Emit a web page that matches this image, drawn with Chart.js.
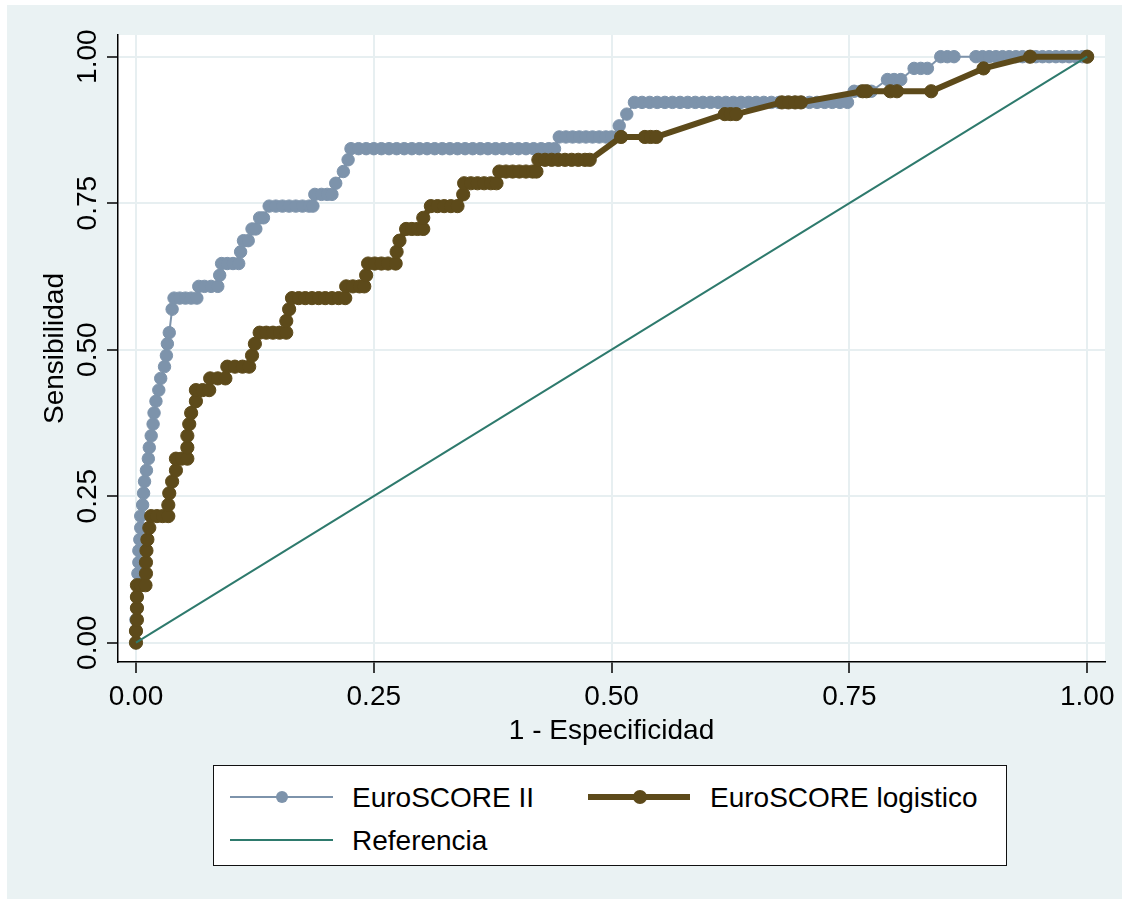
<!DOCTYPE html>
<html>
<head>
<meta charset="utf-8">
<script src="https://cdn.jsdelivr.net/npm/chart.js@4.4.1/dist/chart.umd.min.js"></script>
<style>
  html, body { margin: 0; padding: 0; background: #ffffff; overflow: hidden; }
  #wrap { position: relative; width: 1129px; height: 904px; }
  #c { position: absolute; left: 0; top: 0; }
  .lg { position: absolute; }
  .txt { position: absolute; font-family: "Liberation Sans", Arial, Helvetica, sans-serif; font-size: 28px; line-height: 34px; height: 34px; color: #000; white-space: nowrap; }
</style>
</head>
<body>
<div id="wrap">
  <canvas id="c" width="1129" height="904"></canvas>
  <div class="lg" style="left:213px;top:765px;width:794px;height:101px;box-sizing:border-box;border:1.5px solid #111;background:#fff;"></div>
  <div class="lg" id="lgBlueLine" style="left:230px;top:796px;width:103px;height:2px;"></div>
  <div class="lg" id="lgBlueDot" style="left:276px;top:791px;width:12px;height:12px;border-radius:50%;"></div>
  <div class="txt" style="left:352px;top:781px;">EuroSCORE II</div>
  <div class="lg" id="lgBrownLine" style="left:588px;top:794px;width:102px;height:6px;"></div>
  <div class="lg" id="lgBrownDot" style="left:633px;top:790px;width:14px;height:14px;border-radius:50%;"></div>
  <div class="txt" style="left:710px;top:781px;">EuroSCORE logistico</div>
  <div class="lg" id="lgRefLine" style="left:230px;top:839px;width:103px;height:2px;"></div>
  <div class="txt" style="left:352px;top:824px;">Referencia</div>
</div>
<script>
// ---------- data ----------
const xTickValues = [0, 0.25, 0.5, 0.75, 1];
const yTickValues = [0, 0.25, 0.5, 0.75, 1];
const seriesNames = ["EuroSCORE II", "EuroSCORE logistico", "Referencia"];

// [1 - Especificidad, Sensibilidad]
const euroIIPoints = [
[0,0],[0,0.020],[0,0.039],[0.001,0.059],[0.001,0.078],[0.002,0.098],[0.002,0.118],[0.003,0.137],[0.003,0.157],[0.004,0.176],[0.005,0.196],[0.005,0.216],[0.007,0.235],[0.008,0.255],[0.009,0.275],[0.011,0.294],[0.013,0.314],[0.014,0.333],[0.016,0.353],[0.018,0.373],[0.019,0.392],[0.021,0.412],[0.024,0.431],[0.026,0.451],[0.030,0.471],[0.032,0.490],[0.033,0.510],[0.035,0.529],[0.038,0.569],
[0.040,0.588],[0.046,0.588],[0.052,0.588],[0.058,0.588],[0.064,0.588],
[0.066,0.608],[0.072,0.608],[0.079,0.608],[0.086,0.608],
[0.088,0.627],
[0.090,0.647],[0.096,0.647],[0.102,0.647],[0.108,0.647],
[0.110,0.667],
[0.113,0.686],[0.118,0.686],
[0.122,0.706],[0.126,0.706],
[0.130,0.725],[0.134,0.725],
[0.140,0.745],[0.147,0.745],[0.154,0.745],[0.161,0.745],[0.168,0.745],[0.175,0.745],[0.182,0.745],[0.186,0.745],
[0.188,0.765],[0.195,0.765],[0.201,0.765],[0.206,0.765],
[0.210,0.784],[0.218,0.804],[0.223,0.824],
[0.226,0.843],[0.234,0.843],[0.242,0.843],[0.250,0.843],[0.258,0.843],[0.266,0.843],[0.274,0.843],[0.282,0.843],[0.290,0.843],[0.298,0.843],[0.306,0.843],[0.314,0.843],[0.322,0.843],[0.330,0.843],[0.338,0.843],[0.346,0.843],[0.354,0.843],[0.362,0.843],[0.370,0.843],[0.378,0.843],[0.386,0.843],[0.394,0.843],[0.402,0.843],[0.410,0.843],[0.418,0.843],[0.426,0.843],[0.434,0.843],[0.440,0.843],
[0.445,0.863],[0.452,0.863],[0.459,0.863],[0.466,0.863],[0.473,0.863],[0.480,0.863],[0.487,0.863],[0.494,0.863],[0.500,0.863],
[0.508,0.882],[0.516,0.902],
[0.524,0.922],[0.532,0.922],[0.540,0.922],[0.548,0.922],[0.556,0.922],[0.564,0.922],[0.572,0.922],[0.580,0.922],[0.588,0.922],[0.596,0.922],[0.604,0.922],[0.612,0.922],[0.620,0.922],[0.628,0.922],[0.636,0.922],[0.644,0.922],[0.652,0.922],[0.660,0.922],[0.668,0.922],[0.676,0.922],[0.684,0.922],[0.692,0.922],[0.700,0.922],[0.708,0.922],[0.716,0.922],[0.724,0.922],[0.732,0.922],[0.740,0.922],[0.748,0.922],
[0.755,0.941],[0.762,0.941],[0.769,0.941],[0.773,0.941],
[0.790,0.961],[0.797,0.961],[0.804,0.961],
[0.818,0.980],[0.825,0.980],[0.832,0.980],
[0.846,1],[0.853,1],[0.860,1],[0.883,1],[0.890,1],[0.897,1],[0.904,1],[0.911,1],[0.918,1],[0.925,1],[0.932,1],[0.939,1],[0.946,1],[0.953,1],[0.960,1],[0.967,1],[0.974,1],[0.981,1],[0.988,1],[0.995,1],[1,1]
];

const euroLogPoints = [
[0,0],[0,0.020],[0.001,0.039],[0.001,0.059],[0.001,0.078],[0.001,0.098],[0.005,0.098],[0.010,0.098],
[0.0105,0.118],[0.0105,0.137],[0.011,0.157],[0.012,0.176],[0.014,0.196],
[0.016,0.216],[0.022,0.216],[0.028,0.216],[0.034,0.216],
[0.034,0.235],[0.035,0.255],[0.038,0.275],[0.042,0.294],
[0.042,0.314],[0.048,0.314],[0.054,0.314],
[0.054,0.333],[0.054,0.353],[0.056,0.373],[0.058,0.392],[0.063,0.412],
[0.063,0.431],[0.070,0.431],[0.077,0.431],
[0.078,0.451],[0.086,0.451],[0.094,0.451],
[0.096,0.471],[0.104,0.471],[0.112,0.471],[0.119,0.471],
[0.122,0.490],[0.125,0.510],
[0.130,0.529],[0.137,0.529],[0.144,0.529],[0.151,0.529],[0.158,0.529],
[0.158,0.549],[0.161,0.569],
[0.164,0.588],[0.171,0.588],[0.178,0.588],[0.185,0.588],[0.192,0.588],[0.199,0.588],[0.206,0.588],[0.213,0.588],[0.220,0.588],
[0.221,0.608],[0.228,0.608],[0.235,0.608],[0.240,0.608],
[0.242,0.627],
[0.244,0.647],[0.251,0.647],[0.258,0.647],[0.265,0.647],[0.273,0.647],
[0.274,0.667],[0.277,0.686],
[0.284,0.706],[0.290,0.706],[0.296,0.706],[0.302,0.706],
[0.302,0.725],
[0.310,0.745],[0.317,0.745],[0.324,0.745],[0.331,0.745],[0.338,0.745],
[0.344,0.765],
[0.345,0.784],[0.352,0.784],[0.359,0.784],[0.366,0.784],[0.373,0.784],[0.379,0.784],
[0.382,0.804],[0.389,0.804],[0.396,0.804],[0.403,0.804],[0.410,0.804],[0.417,0.804],[0.421,0.804],
[0.423,0.824],[0.430,0.824],[0.437,0.824],[0.444,0.824],[0.451,0.824],[0.458,0.824],[0.465,0.824],[0.472,0.824],[0.477,0.824],
[0.510,0.863],[0.535,0.863],[0.541,0.863],[0.547,0.863],
[0.619,0.902],[0.625,0.902],[0.631,0.902],
[0.679,0.922],[0.686,0.922],[0.693,0.922],[0.699,0.922],
[0.764,0.941],[0.768,0.941],[0.793,0.941],[0.800,0.941],[0.836,0.941],
[0.891,0.980],
[0.940,1],[1,1]
];

const referencePoints = [[0,0],[1,1]];

// ---------- styles ----------
const COL_BLUE = "#7D93AB";
const COL_BROWN = "#5D4A1A";
const COL_REF = "#2E7A6D";
const COL_BG = "#EAF2F3";
const COL_GRID = "#E7EFF1";
const FONT = '"Liberation Sans", Arial, Helvetica, sans-serif';

document.getElementById("lgBlueLine").style.background = COL_BLUE;
document.getElementById("lgBlueDot").style.background = COL_BLUE;
document.getElementById("lgBrownLine").style.background = COL_BROWN;
document.getElementById("lgBrownDot").style.background = COL_BROWN;
document.getElementById("lgRefLine").style.background = COL_REF;

const toXY = arr => arr.map(p => ({x: p[0], y: p[1]}));

const bgPlugin = {
  id: "bgPlugin",
  beforeDraw(chart) {
    const {ctx, chartArea: a} = chart;
    ctx.save();
    ctx.fillStyle = "#ffffff";
    ctx.fillRect(0, 0, chart.width, chart.height);
    ctx.fillStyle = COL_BG;
    ctx.fillRect(7, 5, chart.width - 14, chart.height - 10);
    ctx.fillStyle = "#ffffff";
    ctx.fillRect(a.left, a.top, a.right - a.left, a.bottom - a.top);
    ctx.restore();
  }
};

const axisCommon = {
  type: "linear",
  grid: { color: COL_GRID, lineWidth: 2, drawTicks: true, tickLength: 11, tickColor: "#000", tickWidth: 1.5 },
  border: { display: true, color: "#000", width: 1.5 },
};

new Chart(document.getElementById("c"), {
  type: "scatter",
  data: {
    datasets: [
      {
        label: seriesNames[0], data: toXY(euroIIPoints), showLine: true, order: 3,
        borderColor: COL_BLUE, borderWidth: 2, tension: 0,
        pointRadius: 6.2, pointBackgroundColor: COL_BLUE, pointBorderColor: COL_BLUE, pointBorderWidth: 1
      },
      {
        label: seriesNames[1], data: toXY(euroLogPoints), showLine: true, order: 2,
        borderColor: COL_BROWN, borderWidth: 6, tension: 0, borderJoinStyle: "round", borderCapStyle: "round",
        pointRadius: 6.6, pointBackgroundColor: COL_BROWN, pointBorderColor: COL_BROWN, pointBorderWidth: 1
      },
      {
        label: seriesNames[2], data: toXY(referencePoints), showLine: true, order: 1,
        borderColor: COL_REF, borderWidth: 2, pointRadius: 0
      }
    ]
  },
  options: {
    responsive: false,
    animation: false,
    devicePixelRatio: 1,
    layout: { padding: { left: 0, right: 24, top: 35, bottom: 0 } },
    plugins: { legend: { display: false }, tooltip: { enabled: false } },
    scales: {
      x: Object.assign({}, axisCommon, {
        min: -0.0189, max: 1.0187,
        afterBuildTicks: s => { s.ticks = xTickValues.map(v => ({value: v})); },
        afterFit: s => { s.height = 242; },
        ticks: { font: { family: FONT, size: 28 }, color: "#000", padding: 7, maxRotation: 0, autoSkip: false,
                 callback: v => Number(v).toFixed(2) },
        title: { display: true, text: "1 - Especificidad", color: "#000", font: { family: FONT, size: 28 },
                 padding: { top: 0, bottom: 156 } }
      }),
      y: Object.assign({}, axisCommon, {
        min: -0.033, max: 1.037,
        afterBuildTicks: s => { s.ticks = yTickValues.map(v => ({value: v})); },
        afterFit: s => { s.width = 118; },
        ticks: { font: { family: FONT, size: 28 }, color: "#000", padding: -9, minRotation: 90, maxRotation: 90,
                 crossAlign: "center", autoSkip: false, callback: v => Number(v).toFixed(2) },
        title: { display: true, text: "Sensibilidad", color: "#000", font: { family: FONT, size: 28 },
                 padding: { top: 38, bottom: 0 } }
      })
    }
  },
  plugins: [bgPlugin]
});
</script>
</body>
</html>
